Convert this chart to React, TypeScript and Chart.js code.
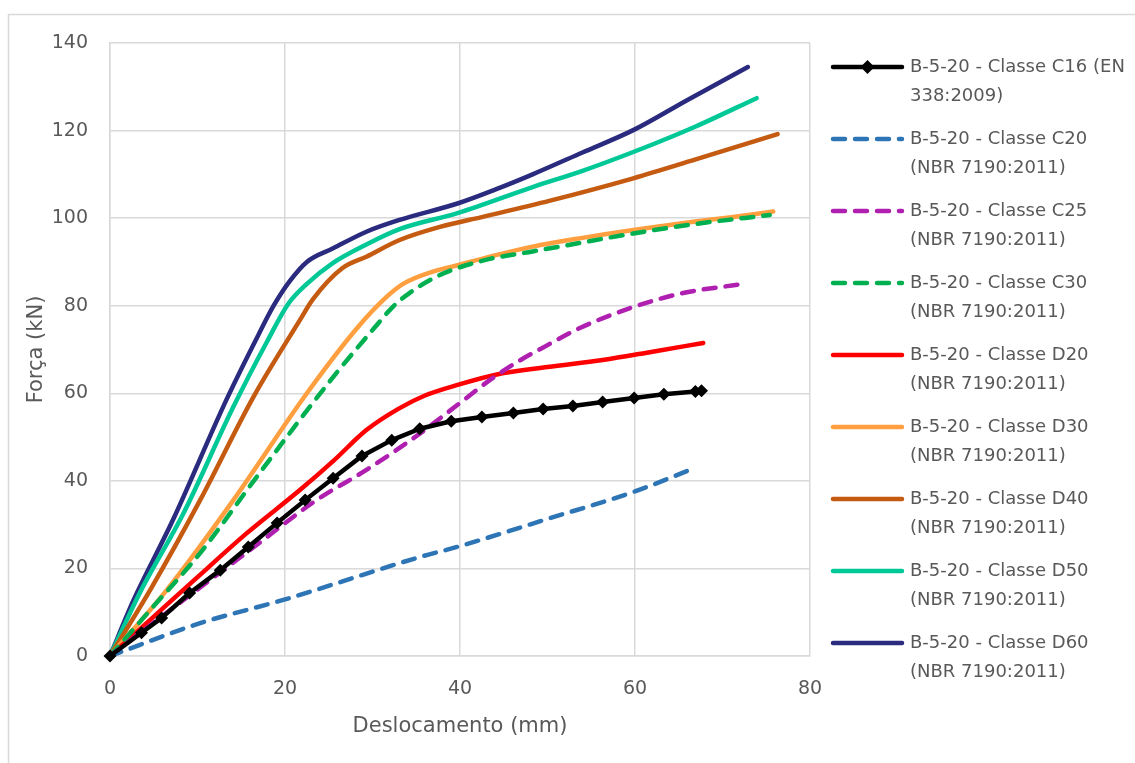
import React, { useEffect, useRef } from "react";
import { Chart, registerables } from "chart.js";

Chart.register(...registerables);

const c16X = [0, 3.6, 5.9, 9.1, 12.6, 15.8, 19.1, 22.3, 25.5, 28.8, 32.2, 35.4, 39.0, 42.5, 46.1, 49.5, 52.9, 56.3, 59.9, 63.3, 66.9, 67.6];
const c16Y = [0, 5.3, 8.7, 14.4, 19.6, 24.9, 30.4, 35.6, 40.6, 45.7, 49.3, 51.9, 53.6, 54.6, 55.5, 56.4, 57.1, 58.0, 58.9, 59.8, 60.4, 60.6];

const c20X = [0, 10.3, 19.8, 35.4, 40, 50, 60, 66.3];
const c20Y = [0, 7.5, 12.8, 22.6, 25.1, 31.3, 37.6, 42.5];

const c25X = [0, 8.4, 16, 23.6, 29.3, 35.2, 40, 43.4, 46.5, 50, 53.7, 59.8, 65.5, 71.7];
const c25Y = [0, 12.8, 24.2, 35.6, 42.5, 50.5, 57.8, 63, 67.1, 71, 74.9, 79.7, 82.9, 84.8];

const c30X = [0, 4.6, 10.3, 17.1, 25.5, 30.5, 32.3, 34.3, 37.7, 42.6, 48.3, 52.2, 59.8, 67, 75.4];
const c30Y = [0, 10.5, 23.5, 41.8, 63.7, 75.6, 79.7, 83, 87, 90.3, 92.4, 93.8, 96.5, 98.7, 100.7];

const d20X = [0, 5, 10, 15.6, 21.7, 25.5, 29.3, 33, 36, 39.7, 44.2, 50, 56.3, 62, 67.8];
const d20Y = [0, 9, 18, 28, 37.9, 44.5, 51.6, 56.5, 59.5, 61.9, 64.3, 66, 67.6, 69.5, 71.5];

const d30X = [0, 6.5, 14.1, 22.5, 28.2, 31.6, 33.5, 36.9, 39.8, 44, 48.3, 54, 59.8, 66, 71, 75.8];
const d30Y = [0, 15.1, 35.6, 60, 74.8, 82, 85, 87.8, 89.3, 91.5, 93.5, 95.5, 97.3, 99, 100.2, 101.5];

const d40X = [0, 4.6, 10.3, 16.4, 21.7, 23.2, 26.5, 29.3, 33.1, 37.7, 42.6, 50.3, 59.8, 67.4, 76.3];
const d40Y = [0, 15.1, 35.6, 59.2, 76.7, 81.5, 88.5, 91.2, 95, 98, 100.3, 104, 109.1, 113.7, 119.2];

const d50X = [0, 3.4, 8.4, 14.1, 18, 20.4, 22.5, 25.5, 29.3, 33.1, 39.8, 48.3, 54, 59.8, 67, 73.9];
const d50Y = [0, 14.4, 32.6, 56.9, 72, 80.5, 85, 89.8, 94, 97.5, 101.2, 107.1, 110.8, 115.1, 121, 127.4];

const d60X = [0, 2.7, 7.2, 13.3, 17, 18.7, 20.5, 22.5, 25.5, 29.3, 33.1, 39.8, 44, 48.3, 54, 59.8, 66, 72.9];
const d60Y = [0, 12.8, 31.1, 58.5, 73.5, 80, 85.5, 90, 93.1, 96.9, 99.6, 103.4, 106.5, 110, 115, 120.1, 127, 134.5];

const seriesLabels = [
  ["B-5-20 - Classe C16 (EN", "338:2009)"],
  ["B-5-20 - Classe C20", "(NBR 7190:2011)"],
  ["B-5-20 - Classe C25", "(NBR 7190:2011)"],
  ["B-5-20 - Classe C30", "(NBR 7190:2011)"],
  ["B-5-20 - Classe D20", "(NBR 7190:2011)"],
  ["B-5-20 - Classe D30", "(NBR 7190:2011)"],
  ["B-5-20 - Classe D40", "(NBR 7190:2011)"],
  ["B-5-20 - Classe D50", "(NBR 7190:2011)"],
  ["B-5-20 - Classe D60", "(NBR 7190:2011)"],
];
const seriesColors = ["#000000", "#2E75B6", "#B020B0", "#00B050", "#FF0000", "#FF9F3F", "#C55A11", "#00C896", "#2A2A7F"];
const seriesDashed = [false, true, true, true, false, false, false, false, false];
const seriesX = [c16X, c20X, c25X, c30X, d20X, d30X, d40X, d50X, d60X];
const seriesY = [c16Y, c20Y, c25Y, c30Y, d20Y, d30Y, d40Y, d50Y, d60Y];

const xTicks = [0, 20, 40, 60, 80];
const yTicks = [0, 20, 40, 60, 80, 100, 120, 140];

const FONT = "'DejaVu Sans', sans-serif";
const TEXT = "#595959";
const GRID = "#d9d9d9";
const DASH = [12, 10];

const frameAndLegend = {
  id: "frameAndLegend",
  afterDraw(chart: any) {
    const ctx = chart.ctx;
    ctx.save();
    ctx.strokeStyle = GRID;
    ctx.lineWidth = 1.5;
    ctx.beginPath();
    ctx.moveTo(8.5, 770);
    ctx.lineTo(8.5, 14.5);
    ctx.lineTo(1140, 14.5);
    ctx.stroke();

    const x0 = 833, x1 = 902, tx = 910;
    seriesLabels.forEach((lines, i) => {
      const y = 67 + 72 * i;
      ctx.strokeStyle = seriesColors[i];
      ctx.lineWidth = 4.5;
      ctx.lineCap = "round";
      ctx.setLineDash(seriesDashed[i] ? DASH : []);
      ctx.beginPath();
      ctx.moveTo(x0, y);
      ctx.lineTo(x1, y);
      ctx.stroke();
      ctx.setLineDash([]);
      if (i === 0) {
        const cx = (x0 + x1) / 2, r = 7;
        ctx.fillStyle = "#000";
        ctx.beginPath();
        ctx.moveTo(cx, y - r);
        ctx.lineTo(cx + r, y);
        ctx.lineTo(cx, y + r);
        ctx.lineTo(cx - r, y);
        ctx.closePath();
        ctx.fill();
      }
      ctx.fillStyle = TEXT;
      ctx.font = `18px ${FONT}`;
      ctx.textAlign = "left";
      ctx.textBaseline = "middle";
      ctx.fillText(lines[0], tx, y);
      ctx.fillText(lines[1], tx, y + 29);
    });
    ctx.restore();
  },
};

export default function App() {
  const ref = useRef<HTMLCanvasElement>(null);
  useEffect(() => {
    if (!ref.current) return;
    const datasets = seriesX.map((xs, i) => ({
      label: seriesLabels[i].join(" "),
      data: xs.map((x, j) => ({ x, y: seriesY[i][j] })),
      borderColor: seriesColors[i],
      backgroundColor: seriesColors[i],
      borderWidth: 4.5,
      borderDash: seriesDashed[i] ? DASH : [],
      borderCapStyle: "round" as const,
      borderJoinStyle: "round" as const,
      tension: i === 0 ? 0 : 0.4,
      cubicInterpolationMode: i === 0 ? ("default" as const) : ("monotone" as const),
      pointRadius: i === 0 ? 6.5 : 0,
      pointHoverRadius: 0,
      pointStyle: "rectRot" as const,
      pointBorderWidth: 0,
      fill: false,
      clip: false as any,
    }));
    const chart = new Chart(ref.current, {
      type: "line",
      data: { datasets },
      plugins: [frameAndLegend],
      options: {
        responsive: false,
        animation: false,
        layout: { padding: { top: 43, right: 325, left: 0, bottom: 0 } },
        plugins: { legend: { display: false }, tooltip: { enabled: false } },
        scales: {
          x: {
            type: "linear",
            min: 0,
            max: 80,
            afterFit: (s: any) => { s.height = 107; },
            afterBuildTicks: (s: any) => { s.ticks = xTicks.map((v) => ({ value: v })); },
            grid: { color: GRID, lineWidth: 1.5, drawTicks: false },
            border: { color: GRID, width: 1.5 },
            ticks: { color: TEXT, font: { family: FONT, size: 19 }, padding: 22, maxRotation: 0 },
            title: { display: true, text: "Deslocamento (mm)", color: TEXT, font: { family: FONT, size: 21 }, padding: { top: 24, bottom: 24 } },
          },
          y: {
            type: "linear",
            min: 0,
            max: 140,
            afterFit: (s: any) => { s.width = 110; },
            afterBuildTicks: (s: any) => { s.ticks = yTicks.map((v) => ({ value: v })); },
            grid: { color: GRID, lineWidth: 1.5, drawTicks: false },
            border: { color: GRID, width: 1.5 },
            ticks: { color: TEXT, font: { family: FONT, size: 19 }, padding: 22 },
            title: { display: true, text: "Força (kN)", color: TEXT, font: { family: FONT, size: 21 }, padding: { top: 24, bottom: 0 } },
          },
        },
      },
    });
    return () => chart.destroy();
  }, []);
  return (
    <div style={{ position: "fixed", left: 0, top: 0, width: 1135, height: 763, background: "#fff" }}>
      <canvas ref={ref} width={1135} height={763} />
    </div>
  );
}
